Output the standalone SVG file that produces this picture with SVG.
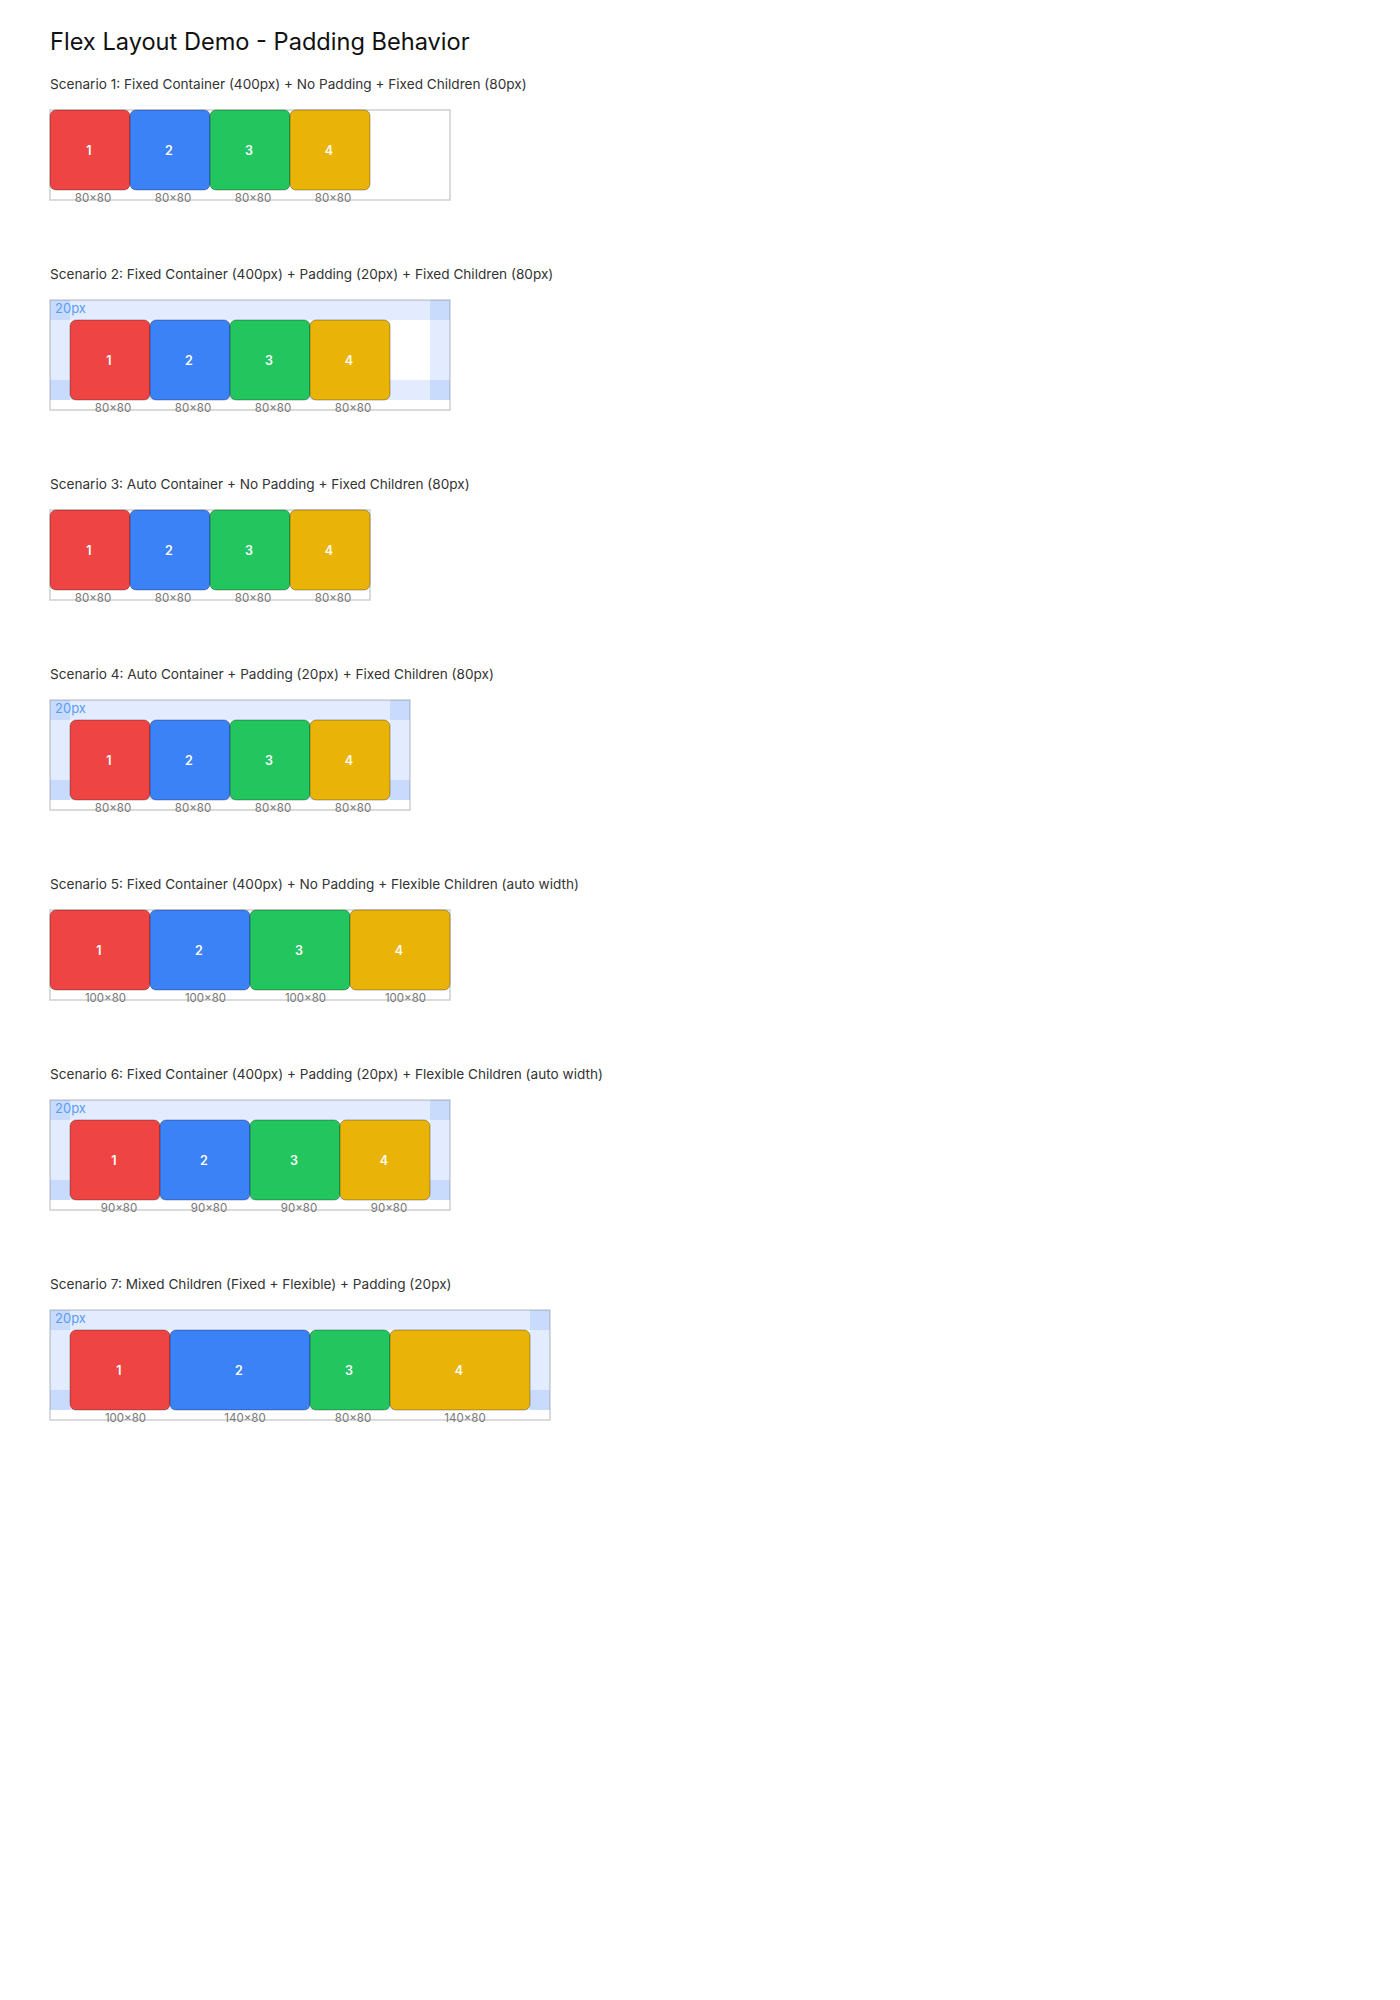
<svg xmlns="http://www.w3.org/2000/svg" width="1400" height="2000" viewBox="0 0 1400 2000">
<style>
.title{font-family:Inter,"Liberation Sans",sans-serif;font-size:23.6px;font-weight:400;fill:#111}
.scen{font-family:Inter,"Liberation Sans",sans-serif;font-size:13.6px;fill:#333}
.cont{fill:#fff;stroke:#cfcfcf;stroke-width:1.5}
.band{fill:#3b82f6;fill-opacity:0.15}
.pad{font-family:Inter,"Liberation Sans",sans-serif;font-size:13px;fill:#5b9bf8}
.box{stroke:#000;stroke-opacity:0.3;stroke-width:1}
.r{fill:#ef4444}.b{fill:#3b82f6}.g{fill:#22c55e}.y{fill:#eab308}
.num{font-family:Inter,"Liberation Sans",sans-serif;font-size:12.5px;font-weight:600;fill:#fff;text-anchor:middle}
.dim{font-family:Inter,"Liberation Sans",sans-serif;font-size:11.5px;fill:#777;text-anchor:middle}
</style>
<rect width="1400" height="2000" fill="#fff"/>
<text class="title" x="50" y="50">Flex Layout Demo - Padding Behavior</text>
<g id="connectors"/>

<g id="scenario1">
<text class="scen" x="50" y="89">Scenario 1: Fixed Container (400px) + No Padding + Fixed Children (80px)</text>
<rect class="cont" x="50" y="110" width="400" height="90"/>
<g id="s1-c1"><rect class="box r" x="50" y="110" width="80" height="80" rx="6"/><text class="num" x="89" y="155">1</text><text class="dim" x="93" y="202">80×80</text></g>
<g id="s1-c2"><rect class="box b" x="130" y="110" width="80" height="80" rx="6"/><text class="num" x="169" y="155">2</text><text class="dim" x="173" y="202">80×80</text></g>
<g id="s1-c3"><rect class="box g" x="210" y="110" width="80" height="80" rx="6"/><text class="num" x="249" y="155">3</text><text class="dim" x="253" y="202">80×80</text></g>
<g id="s1-c4"><rect class="box y" x="290" y="110" width="80" height="80" rx="6"/><text class="num" x="329" y="155">4</text><text class="dim" x="333" y="202">80×80</text></g>
</g>

<g id="scenario2">
<text class="scen" x="50" y="279">Scenario 2: Fixed Container (400px) + Padding (20px) + Fixed Children (80px)</text>
<rect class="cont" x="50" y="300" width="400" height="110"/>
<rect class="band" x="50" y="300" width="400" height="20"/>
<rect class="band" x="50" y="380" width="400" height="20"/>
<rect class="band" x="50" y="300" width="20" height="100"/>
<rect class="band" x="430" y="300" width="20" height="100"/>
<text class="pad" x="55" y="313">20px</text>
<g id="s2-c1"><rect class="box r" x="70" y="320" width="80" height="80" rx="6"/><text class="num" x="109" y="365">1</text><text class="dim" x="113" y="412">80×80</text></g>
<g id="s2-c2"><rect class="box b" x="150" y="320" width="80" height="80" rx="6"/><text class="num" x="189" y="365">2</text><text class="dim" x="193" y="412">80×80</text></g>
<g id="s2-c3"><rect class="box g" x="230" y="320" width="80" height="80" rx="6"/><text class="num" x="269" y="365">3</text><text class="dim" x="273" y="412">80×80</text></g>
<g id="s2-c4"><rect class="box y" x="310" y="320" width="80" height="80" rx="6"/><text class="num" x="349" y="365">4</text><text class="dim" x="353" y="412">80×80</text></g>
</g>

<g id="scenario3">
<text class="scen" x="50" y="489">Scenario 3: Auto Container + No Padding + Fixed Children (80px)</text>
<rect class="cont" x="50" y="510" width="320" height="90"/>
<g id="s3-c1"><rect class="box r" x="50" y="510" width="80" height="80" rx="6"/><text class="num" x="89" y="555">1</text><text class="dim" x="93" y="602">80×80</text></g>
<g id="s3-c2"><rect class="box b" x="130" y="510" width="80" height="80" rx="6"/><text class="num" x="169" y="555">2</text><text class="dim" x="173" y="602">80×80</text></g>
<g id="s3-c3"><rect class="box g" x="210" y="510" width="80" height="80" rx="6"/><text class="num" x="249" y="555">3</text><text class="dim" x="253" y="602">80×80</text></g>
<g id="s3-c4"><rect class="box y" x="290" y="510" width="80" height="80" rx="6"/><text class="num" x="329" y="555">4</text><text class="dim" x="333" y="602">80×80</text></g>
</g>

<g id="scenario4">
<text class="scen" x="50" y="679">Scenario 4: Auto Container + Padding (20px) + Fixed Children (80px)</text>
<rect class="cont" x="50" y="700" width="360" height="110"/>
<rect class="band" x="50" y="700" width="360" height="20"/>
<rect class="band" x="50" y="780" width="360" height="20"/>
<rect class="band" x="50" y="700" width="20" height="100"/>
<rect class="band" x="390" y="700" width="20" height="100"/>
<text class="pad" x="55" y="713">20px</text>
<g id="s4-c1"><rect class="box r" x="70" y="720" width="80" height="80" rx="6"/><text class="num" x="109" y="765">1</text><text class="dim" x="113" y="812">80×80</text></g>
<g id="s4-c2"><rect class="box b" x="150" y="720" width="80" height="80" rx="6"/><text class="num" x="189" y="765">2</text><text class="dim" x="193" y="812">80×80</text></g>
<g id="s4-c3"><rect class="box g" x="230" y="720" width="80" height="80" rx="6"/><text class="num" x="269" y="765">3</text><text class="dim" x="273" y="812">80×80</text></g>
<g id="s4-c4"><rect class="box y" x="310" y="720" width="80" height="80" rx="6"/><text class="num" x="349" y="765">4</text><text class="dim" x="353" y="812">80×80</text></g>
</g>

<g id="scenario5">
<text class="scen" x="50" y="889">Scenario 5: Fixed Container (400px) + No Padding + Flexible Children (auto width)</text>
<rect class="cont" x="50" y="910" width="400" height="90"/>
<g id="s5-c1"><rect class="box r" x="50" y="910" width="100" height="80" rx="6"/><text class="num" x="99" y="955">1</text><text class="dim" x="105.5" y="1002">100×80</text></g>
<g id="s5-c2"><rect class="box b" x="150" y="910" width="100" height="80" rx="6"/><text class="num" x="199" y="955">2</text><text class="dim" x="205.5" y="1002">100×80</text></g>
<g id="s5-c3"><rect class="box g" x="250" y="910" width="100" height="80" rx="6"/><text class="num" x="299" y="955">3</text><text class="dim" x="305.5" y="1002">100×80</text></g>
<g id="s5-c4"><rect class="box y" x="350" y="910" width="100" height="80" rx="6"/><text class="num" x="399" y="955">4</text><text class="dim" x="405.5" y="1002">100×80</text></g>
</g>

<g id="scenario6">
<text class="scen" x="50" y="1079">Scenario 6: Fixed Container (400px) + Padding (20px) + Flexible Children (auto width)</text>
<rect class="cont" x="50" y="1100" width="400" height="110"/>
<rect class="band" x="50" y="1100" width="400" height="20"/>
<rect class="band" x="50" y="1180" width="400" height="20"/>
<rect class="band" x="50" y="1100" width="20" height="100"/>
<rect class="band" x="430" y="1100" width="20" height="100"/>
<text class="pad" x="55" y="1113">20px</text>
<g id="s6-c1"><rect class="box r" x="70" y="1120" width="90" height="80" rx="6"/><text class="num" x="114" y="1165">1</text><text class="dim" x="119" y="1212">90×80</text></g>
<g id="s6-c2"><rect class="box b" x="160" y="1120" width="90" height="80" rx="6"/><text class="num" x="204" y="1165">2</text><text class="dim" x="209" y="1212">90×80</text></g>
<g id="s6-c3"><rect class="box g" x="250" y="1120" width="90" height="80" rx="6"/><text class="num" x="294" y="1165">3</text><text class="dim" x="299" y="1212">90×80</text></g>
<g id="s6-c4"><rect class="box y" x="340" y="1120" width="90" height="80" rx="6"/><text class="num" x="384" y="1165">4</text><text class="dim" x="389" y="1212">90×80</text></g>
</g>

<g id="scenario7">
<text class="scen" x="50" y="1289">Scenario 7: Mixed Children (Fixed + Flexible) + Padding (20px)</text>
<rect class="cont" x="50" y="1310" width="500" height="110"/>
<rect class="band" x="50" y="1310" width="500" height="20"/>
<rect class="band" x="50" y="1390" width="500" height="20"/>
<rect class="band" x="50" y="1310" width="20" height="100"/>
<rect class="band" x="530" y="1310" width="20" height="100"/>
<text class="pad" x="55" y="1323">20px</text>
<g id="s7-c1"><rect class="box r" x="70" y="1330" width="100" height="80" rx="6"/><text class="num" x="119" y="1375">1</text><text class="dim" x="125.5" y="1422">100×80</text></g>
<g id="s7-c2"><rect class="box b" x="170" y="1330" width="140" height="80" rx="6"/><text class="num" x="239" y="1375">2</text><text class="dim" x="245" y="1422">140×80</text></g>
<g id="s7-c3"><rect class="box g" x="310" y="1330" width="80" height="80" rx="6"/><text class="num" x="349" y="1375">3</text><text class="dim" x="353" y="1422">80×80</text></g>
<g id="s7-c4"><rect class="box y" x="390" y="1330" width="140" height="80" rx="6"/><text class="num" x="459" y="1375">4</text><text class="dim" x="465" y="1422">140×80</text></g>
</g>
</svg>
